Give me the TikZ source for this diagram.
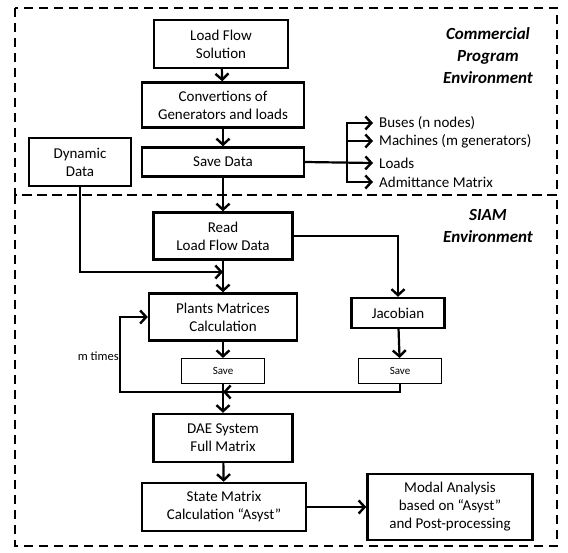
\documentclass[tikz,border=0pt]{standalone}
\usepackage{fontspec}
\setmainfont{Carlito}
\usetikzlibrary{arrows.meta}
\tikzset{
  box/.style={draw, line width=2.4pt, align=center, inner sep=2pt,
    font=\fontsize{15}{18}\selectfont},
  savebox/.style={draw, line width=1.1pt, minimum width=83, minimum height=25,
    font=\fontsize{11}{13}\selectfont},
  lbl/.style={anchor=west, inner xsep=6pt, inner ysep=2pt, font=\fontsize{15}{18}\selectfont},
  env/.style={align=center, font=\fontsize{17}{22}\selectfont\bfseries\itshape},
  envline/.style={line width=2pt, dash pattern=on 9pt off 6pt},
  arr/.style={line width=2.2pt, -{Straight Barb[length=6pt,width=13pt,line width=2.4pt]}}
}
\begin{document}
\begin{tikzpicture}[x=1pt,y=-1pt]
  \useasboundingbox (0,0) rectangle (568,552);
  % environments
  \draw[envline] (15,8) rectangle (557,195);
  \draw[envline] (15,195) rectangle (557,546);
  \node[env] (cpe) at (488,56) {Commercial\\Program\\Environment};
  \node[env] (siam) at (488,226) {SIAM\\Environment};

  % commercial program part
  \node[box, minimum width=134, minimum height=48] (lfs) at (221,44) {Load Flow\\Solution};
  \node[box, minimum width=162, minimum height=45] (conv) at (223,105) {Convertions of\\Generators and loads};
  \node[box, minimum width=162, minimum height=29] (save) at (223,162) {Save Data};
  \node[box, minimum width=102, minimum height=48] (dyn) at (80,162) {Dynamic\\Data};
  \node[lbl] (bus) at (373,123) {Buses (n nodes)};
  \node[lbl] (mach) at (373,141) {Machines (m generators)};
  \node[lbl] (loads) at (373,163) {Loads};
  \node[lbl] (adm) at (373,182) {Admittance Matrix};
  \coordinate (br) at (347,163);

  % SIAM part
  \node[box, minimum width=139, minimum height=47] (read) at (223,236) {Read\\Load Flow Data};
  \node[box, minimum width=148, minimum height=47] (plants) at (223,317) {Plants Matrices\\Calculation};
  \node[box, minimum width=93, minimum height=30] (jac) at (398,313) {Jacobian};
  \node[savebox] (savel) at (223,371) {Save};
  \node[savebox] (saver) at (400,371) {Save};
  \node[box, minimum width=139, minimum height=48] (dae) at (223,438) {DAE System\\Full Matrix};
  \node[box, minimum width=164, minimum height=48] (state) at (224,507) {State Matrix\\Calculation “Asyst”};
  \node[box, minimum width=165, minimum height=66] (modal) at (450,507) {Modal Analysis\\based on “Asyst”\\and Post-processing};
  \node[anchor=east, inner sep=1pt, font=\fontsize{12.5}{15}\selectfont] (mt) at (120,356) {m times};
  \coordinate (dj) at (223,272);
  \coordinate (mj) at (223,392);
  \coordinate (lp) at (120,392);

  \draw[arr] (lfs) -- (conv);
  \draw[arr] (conv) -- (save);
  \draw[arr] (save) -- (read);
  \draw[arr] (save.east) -- (loads.west);
  \draw[arr] (br) |- (bus.west);
  \draw[arr] (br) |- (mach.west);
  \draw[arr] (br) |- (adm.west);
  \draw[arr] (dyn) |- (dj);
  \draw[arr] (read) -- (plants);
  \draw[arr] (read.east) -| (jac);
  \draw[arr] (plants) -- (savel);
  \draw[arr] (jac) -- (saver);
  \draw[arr] (saver) |- (mj);
  \draw[arr] (savel) -- (dae);
  \draw[arr] (mj) -- (lp) |- (plants.west);
  \draw[arr] (dae) -- (state);
  \draw[arr] (state) -- (modal);
\end{tikzpicture}
\end{document}
